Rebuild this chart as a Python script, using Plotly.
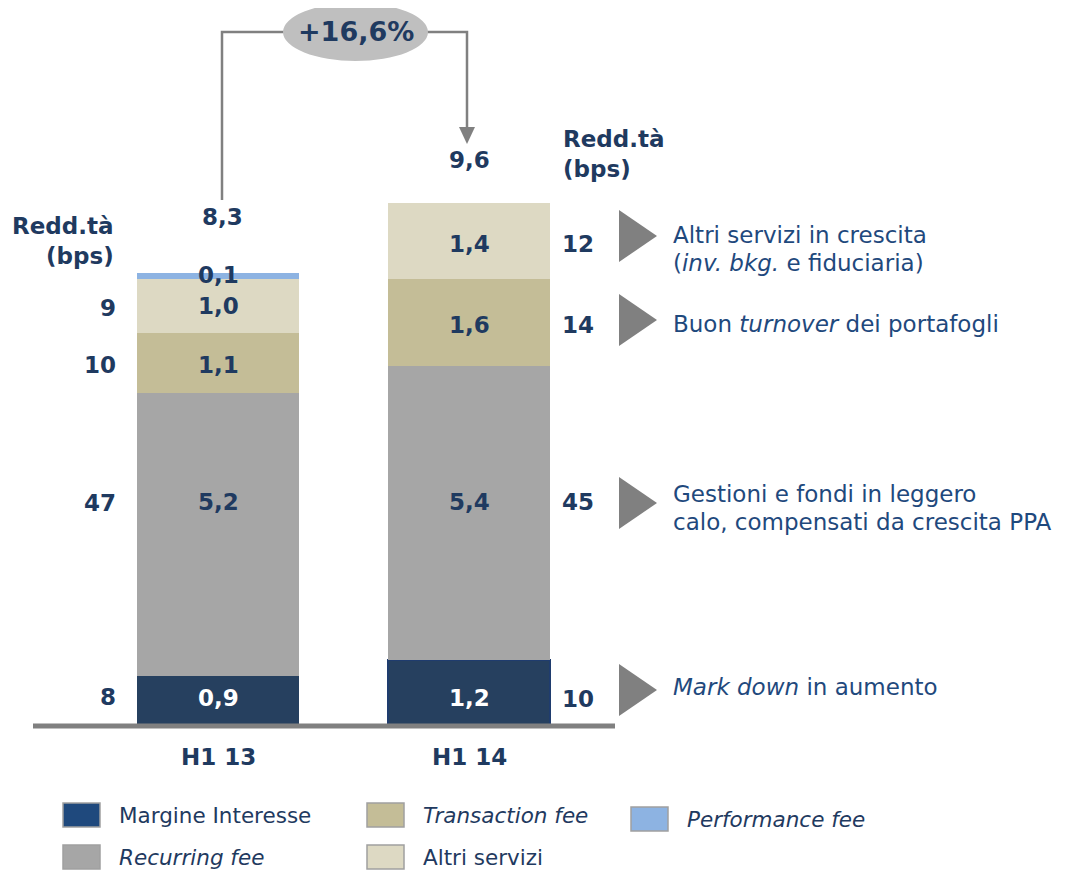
import plotly.graph_objects as go

# ---------------- data ----------------
periods = ["H1 13", "H1 14"]
series_names = ["Margine Interesse", "Recurring fee", "Transaction fee", "Altri servizi", "Performance fee"]
margine = [0.9, 1.2]
recurring = [5.2, 5.4]
transaction = [1.1, 1.6]
altri = [1.0, 1.4]
performance = [0.1, 0.0]
totals = [8.3, 9.6]
bps_h1_13 = [8, 47, 10, 9]
bps_h1_14 = [10, 45, 14, 12]
growth_label = "+16,6%"
comments = [
    ["<i>Mark down</i> in aumento"],
    ["Gestioni e fondi in leggero", "calo, compensati da crescita PPA"],
    ["Buon <i>turnover</i> dei portafogli"],
    ["Altri servizi in crescita", "(<i>inv. bkg.</i> e fiduciaria)"],
]
legend_labels = ["Margine Interesse", "<i>Recurring fee</i>", "<i>Transaction fee</i>", "Altri servizi", "<i>Performance fee</i>"]

# ---------------- style ----------------
PAGE_W, PAGE_H = 1075, 872
OFF = 8  # browser body margin
W, H = PAGE_W - OFF, PAGE_H - OFF
TXT = "#1F3A60"
BLUE_TXT = "#1F497D"
FONT = "DejaVu Sans"
BOLD = 23
colors = ["#26405F", "#A6A6A6", "#C4BD97", "#DDD9C3", "#8DB3E2"]
legend_colors = ["#1F497D", "#A6A6A6", "#C4BD97", "#DDD9C3", "#8DB3E2"]
GRAY = "#808080"

PX_X = 251.0
PX_Y = 54.4
X0PX, Y0PX = 218.0, 725.0

# vertical pixel positions of the value labels (per bar, per segment)
label_py = [[698, 502, 365, 306, 275], [698, 502, 325, 244, None]]
side_py = [[697, 503, 365, 308], [699, 502, 325, 244]]


def X(px):
    return (px - X0PX) / PX_X


def Y(py):
    return (Y0PX - py) / PX_Y


def fmt(v):
    return f"{v:.1f}".replace(".", ",")


xs = [0, 1]
BAR_W = 162 / PX_X
stack = [margine, recurring, transaction, altri, performance]

fig = go.Figure()
for i, (name, vals) in enumerate(zip(series_names, stack)):
    line_w = [0, 2] if i == 0 else [0, 0]
    fig.add_trace(go.Bar(
        x=xs, y=vals, name=name, width=BAR_W,
        marker=dict(color=colors[i], line=dict(color="#1F3C6E", width=line_w)),
        showlegend=False, hoverinfo="skip",
    ))

annotations = []


def txt(x, y, text, size=BOLD, color=TXT, xanchor="center", **kw):
    annotations.append(dict(x=x, y=y, text=text, showarrow=False, xanchor=xanchor,
                            font=dict(family=FONT, size=size, color=color), **kw))


# segment labels
for j in range(2):
    for i, vals in enumerate(stack):
        v = vals[j]
        if v <= 0:
            continue
        txt(xs[j], Y(label_py[j][i]), f"<b>{fmt(v)}</b>", color="white" if i == 0 else TXT)
    txt(xs[j], Y(757), f"<b>{periods[j]}</b>")

# totals
txt(X(222), Y(217), f"<b>{fmt(totals[0])}</b>")
txt(X(469), Y(160), f"<b>{fmt(totals[1])}</b>")

# bps on the side
for k, (b1, b2) in enumerate(zip(bps_h1_13, bps_h1_14)):
    txt(X(118), Y(side_py[0][k]), f"<b>{b1}</b>", xanchor="right")
    txt(X(560), Y(side_py[1][k]), f"<b>{b2}</b>", xanchor="left")

# Redd.tà headers
txt(X(116), Y(226), "<b>Redd.tà</b>", xanchor="right")
txt(X(116), Y(256), "<b>(bps)</b>", xanchor="right")
txt(X(561), Y(139), "<b>Redd.tà</b>", xanchor="left")
txt(X(561), Y(169), "<b>(bps)</b>", xanchor="left")

shapes = []
# base axis line
shapes.append(dict(type="line", x0=X(33), x1=X(615), y0=Y(726), y1=Y(726),
                   line=dict(color=GRAY, width=5), layer="above"))

# growth arrow
shapes.append(dict(type="path", path=f"M {X(222)} {Y(200)} L {X(222)} {Y(32)} L {X(286)} {Y(32)}",
                   line=dict(color=GRAY, width=2.5)))
shapes.append(dict(type="path", path=f"M {X(426)} {Y(32)} L {X(467)} {Y(32)} L {X(467)} {Y(128)}",
                   line=dict(color=GRAY, width=2.5)))
shapes.append(dict(type="path", path=f"M {X(459)} {Y(127)} L {X(475)} {Y(127)} L {X(467)} {Y(144)} Z",
                   fillcolor=GRAY, line=dict(color=GRAY, width=0)))
shapes.append(dict(type="circle", x0=X(283), x1=X(428), y0=Y(61), y1=Y(3),
                   fillcolor="#BFBFBF", line=dict(width=0)))
txt(X(355.5), Y(31), f"<b>{growth_label}</b>", size=27)

# comment triangles and texts
tri_centers = [690, 503, 320, 236]
line_ys = [[687], [494, 522], [324], [235, 263]]
for yc, lys, lines in zip(tri_centers, line_ys, comments):
    shapes.append(dict(type="path",
                       path=f"M {X(619)} {Y(yc - 26)} L {X(657)} {Y(yc)} L {X(619)} {Y(yc + 26)} Z",
                       fillcolor=GRAY, line=dict(width=0)))
    for ly, line in zip(lys, lines):
        txt(X(671), Y(ly), line, size=23, color=BLUE_TXT, xanchor="left")

# legend
leg_pos = [(63, 815), (63, 857), (367, 815), (367, 857), (631, 819)]
for (lx, ly), lab, col in zip(leg_pos, legend_labels, legend_colors):
    shapes.append(dict(type="rect", x0=X(lx), x1=X(lx + 37), y0=Y(ly + 12), y1=Y(ly - 12),
                       fillcolor=col, line=dict(color="#A0A0A0", width=1.5)))
    txt(X(lx + 54), Y(ly), lab, size=21.5, xanchor="left")

fig.update_layout(
    barmode="stack", bargap=0,
    width=W, height=H,
    margin=dict(l=0, r=0, t=0, b=0),
    paper_bgcolor="white", plot_bgcolor="white",
    xaxis=dict(range=[X(OFF), X(PAGE_W)], visible=False, fixedrange=True),
    yaxis=dict(range=[Y(PAGE_H), Y(OFF)], visible=False, fixedrange=True),
    annotations=annotations, shapes=shapes,
    font=dict(family=FONT, color=TXT),
)

fig.write_html("out.html")
